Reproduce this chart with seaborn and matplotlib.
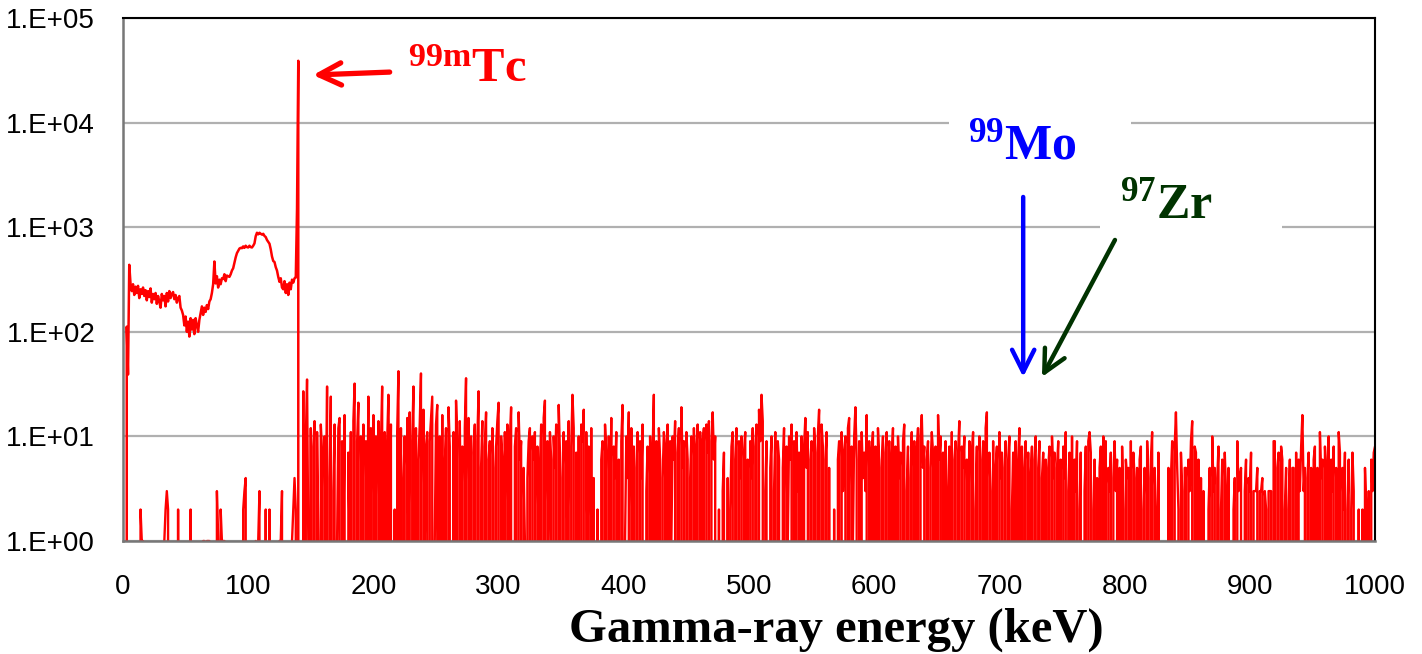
import numpy as np
import pandas as pd
import matplotlib
matplotlib.use("Agg")
import matplotlib.pyplot as plt
from matplotlib.patches import Rectangle
import seaborn as sns

sns.set_theme(style="white")
plt.rcParams['font.family'] = ['Liberation Sans', 'DejaVu Sans']
plt.rcParams['text.color'] = 'black'
plt.rcParams['mathtext.fontset'] = 'custom'
plt.rcParams['mathtext.rm'] = 'Liberation Serif'
plt.rcParams['mathtext.bf'] = 'Liberation Serif:bold'

# ---------------- data ----------------
# main continuum + 99mTc photopeak, energies 2..141 keV (1 keV channels)
cont_start_kev = 2
cont_counts = [
    0, 112, 39, 437, 290, 245, 285, 225, 270, 235,
    275, 210, 255, 230, 265, 220, 250, 200, 245, 215,
    260, 190, 230, 205, 235, 185, 220, 195, 170, 230,
    200, 220, 175, 235, 195, 245, 210, 230, 240, 205,
    225, 190, 210, 220, 170, 160, 145, 115, 140, 100,
    125, 90, 135, 105, 130, 95, 135, 115, 100, 130,
    150, 175, 145, 170, 155, 180, 165, 195, 205, 235,
    285, 470, 290, 340, 265, 315, 285, 325, 320, 355,
    305, 345, 340, 335, 355, 385, 405, 455, 515, 565,
    595, 625, 635, 630, 655, 635, 665, 645, 640, 665,
    645, 640, 665, 700, 820, 885, 855, 885, 865, 850,
    865, 825, 805, 755, 725, 695, 615, 525, 475, 465,
    415, 385, 335, 300, 325, 265, 255, 305, 235, 285,
    225, 295, 255, 315, 295, 325, 330, 1500, 39000, 0,
]

# low-level counts 0..142 keV
low_0 = [0, 0, 0, 0, 0, 0, 0, 0, 0, 0, 0, 0, 0, 0, 2, 1, 1, 0, 0, 0]
low_20 = [0, 0, 0, 0, 0, 0, 0, 0, 0, 0, 0, 0, 0, 1, 2, 3, 2, 0, 0, 0]
low_40 = [0, 0, 0, 0, 2, 0, 0, 0, 0, 0, 0, 0, 0, 0, 2, 0, 0, 0, 0, 0]
low_60 = [0, 0, 0, 0, 1, 1, 0, 1, 1, 1, 0, 0, 0, 0, 0, 3, 1, 0, 2, 1]
low_80 = [1, 1, 0, 0, 0, 0, 0, 0, 0, 0, 0, 0, 0, 0, 0, 0, 2, 3, 4, 0]
low_100 = [0, 0, 0, 0, 0, 0, 1, 0, 1, 3, 0, 0, 0, 0, 2, 0, 0, 2, 0, 0]
low_120 = [0, 0, 0, 0, 0, 1, 1, 3, 0, 0, 0, 0, 0, 0, 0, 1, 2, 4, 2, 0, 0, 0, 0]

# high-energy counts, 1 keV channels from 143 keV
noise_143 = [0,27,0,9,35,1,0,12,0,8, 14,0,11,1,0,13,7,0,10,1, 30,0,4,24,0,3,13,0,1,12, 15,0,9,1,16,0,0,7,1,11, 0,14,32,0,9,21,0,10,1,13]
noise_193 = [0,9,1,24,0,12,0,16,1,10, 0,14,1,8,30,0,11,0,9,25, 1,13,0,0,2,0,11,42,0,12, 0,4,10,0,15,1,17,0,9,30, 0,12,0,6,13,40,0,18,1,8]
noise_243 = [11,0,9,15,24,0,1,13,20,0, 10,0,16,0,5,12,0,19,8,0, 0,11,0,22,9,0,14,1,8,0, 12,36,0,15,1,10,0,7,13,0, 9,27,0,5,14,0,8,17,0,6]
noise_293 = [9,0,12,5,0,8,14,21,0,10, 6,0,11,0,13,1,9,19,0,0, 8,12,0,17,6,9,0,5,1,0, 4,9,12,0,10,6,11,0,8,1, 5,13,0,15,22,0,9,1,11,6]
noise_343 = [0,10,5,13,0,20,7,0,4,11, 0,9,1,14,0,8,25,12,0,7, 0,10,0,13,9,18,0,11,1,8, 0,12,0,4,0,0,2,0,0,6, 9,0,13,7,0,10,1,15,0,8]
noise_393 = [4,11,0,6,0,9,20,0,1,10, 4,17,0,12,1,8,0,5,11,0, 9,4,13,0,0,3,8,0,10,1, 7,25,0,9,0,12,6,0,4,11, 8,0,13,0,9,1,10,6,14,0]
noise_443 = [7,12,0,19,5,9,0,11,6,0, 4,10,0,12,1,8,13,0,11,0, 9,12,0,13,7,14,0,9,17,6, 10,0,0,2,0,0,3,7,0,0, 4,0,2,8,11,0,6,12,0,9]
noise_493 = [4,10,0,7,11,0,6,0,9,4, 12,0,8,13,0,18,9,25,14,0, 3,9,0,0,5,10,0,3,11,0, 9,6,0,0,5,12,0,8,1,10, 6,13,0,9,0,11,3,7,0,10]
noise_543 = [0,8,15,5,11,0,6,9,0,12, 7,0,10,18,0,13,8,0,6,11, 0,5,0,0,0,2,0,0,6,9, 0,11,3,7,10,0,12,15,0,8, 1,10,19,6,0,9,0,11,4,7]
noise_593 = [3,16,0,9,1,7,11,0,8,0, 12,6,0,5,10,0,7,11,0,9, 0,6,12,0,8,0,10,4,7,0, 9,13,0,3,8,0,4,11,0,9, 0,7,12,0,10,16,5,8,0,6]
noise_643 = [9,0,5,11,7,0,8,0,16,6, 10,0,7,0,9,0,3,8,0,11, 0,6,9,0,7,14,0,8,5,10, 0,6,1,9,0,7,11,0,2,8, 0,10,6,0,9,0,12,17,0,7]
noise_693 = [3,0,9,0,5,8,0,11,4,7, 0,5,9,0,6,10,0,2,7,0, 9,0,6,12,0,8,0,5,9,0, 7,0,4,8,0,6,10,0,5,9, 0,4,7,0,6,0,5,8,0,10]
noise_743 = [4,7,0,5,9,0,6,0,8,4, 11,0,3,7,0,10,0,6,3,9, 0,2,7,0,0,3,8,0,9,11, 7,0,2,6,0,4,0,5,8,0, 10,0,9,0,5,3,7,0,4,9]
noise_793 = [3,6,0,5,0,8,2,0,6,4, 5,0,9,0,7,4,0,5,0,6, 8,0,2,5,0,9,4,0,6,11, 0,5,2,0,7,0,0,0,0,0, 0,0,5,0,4,9,0,8,17,5]
noise_843 = [2,0,7,3,0,5,5,0,6,3, 9,14,0,8,7,0,6,0,4,0, 3,0,0,0,2,5,0,10,3,5, 0,4,8,0,2,6,0,7,3,0, 5,0,0,0,2,4,0,9,3,4]
noise_893 = [5,0,0,3,6,0,4,3,7,0, 3,3,3,5,0,3,3,4,0,3, 2,0,3,3,3,0,9,9,0,5, 7,0,8,6,0,2,5,0,2,6, 0,5,5,0,7,0,6,3,8,16]
noise_943 = [3,5,0,4,7,0,5,0,6,8, 0,5,0,11,4,6,0,8,5,0, 10,0,6,3,8,0,5,0,11,7, 0,5,2,7,0,2,6,0,2,7, 3,0,0,0,2,0,0,2,0,5]
noise_993 = [2,0,3,0,6,3,7,8]

yticks = [1, 10, 100, 1000, 10000, 100000]
yticklabels = ['1.E+00', '1.E+01', '1.E+02', '1.E+03', '1.E+04', '1.E+05']
xticks = [0, 100, 200, 300, 400, 500, 600, 700, 800, 900, 1000]

# ---------------- build tables ----------------
cont_df = pd.DataFrame({
    'energy': np.arange(cont_start_kev, cont_start_kev + len(cont_counts)),
    'counts': cont_counts,
})
spec_counts = (low_0 + low_20 + low_40 + low_60 + low_80 + low_100 + low_120 +
               noise_143 + noise_193 + noise_243 + noise_293 + noise_343 +
               noise_393 + noise_443 + noise_493 + noise_543 + noise_593 +
               noise_643 + noise_693 + noise_743 + noise_793 + noise_843 +
               noise_893 + noise_943 + noise_993)
spec_df = pd.DataFrame({'energy': np.arange(0, len(spec_counts)), 'counts': spec_counts})

# ---------------- figure ----------------
fig = plt.figure(figsize=(14.22, 6.54), dpi=100)
ax = fig.add_axes([123 / 1422, 1 - 541 / 654, 1252 / 1422, 523 / 654])

sns.lineplot(data=spec_df, x='energy', y='counts', ax=ax, color='#FF0000',
             lw=1.7, estimator=None, sort=False, zorder=2)
sns.lineplot(data=cont_df, x='energy', y='counts', ax=ax, color='#FF0000',
             lw=1.8, estimator=None, sort=False, zorder=2)

ax.set_yscale('log')
ax.set_ylim(1, 1e5)
ax.set_xlim(0, 1000)
ax.set_yticks(yticks)
ax.set_yticklabels(yticklabels)
ax.minorticks_off()
ax.set_xticks(xticks)
ax.set_xticklabels([str(t) for t in xticks])
ax.tick_params(axis='y', length=0, pad=20, labelsize=20, colors='black')
ax.tick_params(axis='x', length=0, pad=24, labelsize=20, colors='black')
ax.set_xlabel('')
ax.set_ylabel('')

ax.yaxis.grid(True, color='#b0b0b0', lw=1.6)
ax.xaxis.grid(False)
ax.set_axisbelow(True)
for s in ['left', 'bottom']:
    ax.spines[s].set_color('#777777')
    ax.spines[s].set_linewidth(1.8)
for s in ['top', 'right']:
    ax.spines[s].set_color('black')
    ax.spines[s].set_linewidth(1.5)

# white label boxes (hide gridlines behind labels)
ax.add_patch(Rectangle(((949 - 123) / 1252, (541 - 195) / 523), 182 / 1252, 95 / 523,
                       transform=ax.transAxes, fc='white', ec='none', zorder=3))
ax.add_patch(Rectangle(((1100 - 123) / 1252, (541 - 246) / 523), 182 / 1252, 76 / 523,
                       transform=ax.transAxes, fc='white', ec='none', zorder=3))

# labels
ax.text(227.6, 24400, r'$\mathbf{{}^{99m}Tc}$', color='#FF0000', fontsize=35,
        ha='left', va='baseline', zorder=6)
ax.text(675, 4490, r'$\mathbf{{}^{99}Mo}$', color='#0000FF', fontsize=36,
        ha='left', va='baseline', zorder=6)
ax.text(796, 1224, r'$\mathbf{{}^{97}Zr}$', color='#003300', fontsize=36,
        ha='left', va='baseline', zorder=6)

# arrows
arrow_kw = dict(arrowstyle='->,head_length=0.8,head_width=0.4', mutation_scale=20,
                shrinkA=0, shrinkB=0)
ax.annotate('', xy=(151.8, 28500), xytext=(213, 30400),
            arrowprops=dict(color='#FF0000', lw=3.8, **arrow_kw), zorder=7)
ax.annotate('', xy=(719, 37), xytext=(719, 1945),
            arrowprops=dict(color='#0000FF', lw=3.2, **arrow_kw), zorder=7)
ax.annotate('', xy=(734, 37), xytext=(792.3, 755),
            arrowprops=dict(color='#003300', lw=3.2, **arrow_kw), zorder=7)

fig.text(836 / 1422, 1 - 642 / 654, 'Gamma-ray energy (keV)', fontsize=35,
         fontweight='bold', family='Liberation Serif', color='black',
         ha='center', va='baseline')

fig.savefig('out.png', dpi=100, facecolor='white')
